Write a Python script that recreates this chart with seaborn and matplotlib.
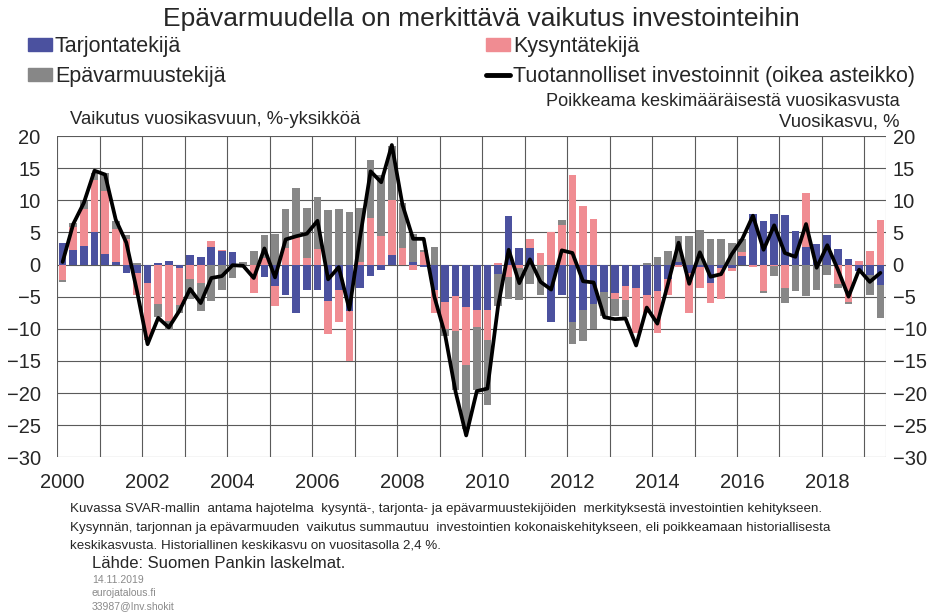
import numpy as np
import matplotlib.pyplot as plt
from matplotlib.patches import Patch
from matplotlib.lines import Line2D
import seaborn as sns

#%% data (quarterly, 2000Q1 - 2019Q2)
years = list(range(2000, 2019))
year_labels = [str(y) for y in range(2000, 2019, 2)]

supply = [3.3, 2.2, 2.9, 5.1,  1.7, 0.4, -1.3, -1.3,  -2.8, 0.3, 0.6, -0.6,
          1.5, 1.2, 2.8, 2.1,  2.0, 0.0, 0.0, -1.9,  -3.4, -4.7, -7.5, -3.9,
          -3.9, -5.6, -4.0, -7.2,  -3.6, -1.8, -0.8, 1.5,  0.0, 0.4, -0.4, -3.9,
          -5.8, -4.9, -6.6, -7.0,  -7.1, -1.4, 7.6, 2.5,  2.5, 0.0, -9.0, -4.8,
          -8.9, -7.0, -6.1, -4.3,  -4.4, -3.4, -3.7, -4.7,  -4.1, -2.3, 0.4, -1.3,
          -0.4, -2.8, -0.5, -0.6,  1.3, 7.8, 6.8, 7.8,  7.7, 5.2, 2.7, 3.2,
          4.6, 2.4, 0.9, -1.0,  -1.7, -3.2]
demand = [-2.4, 3.7, 5.8, 8.0,  9.7, 5.1, 4.0, -3.4,  -8.8, -6.1, -8.8, -5.7,
          -2.3, -2.8, 0.9, 0.15,  0.0, 0.0, -4.5, 1.0,  -3.1, 2.6, 4.4, 1.0,
          2.4, -5.2, -5.0, -7.8,  0.4, 7.3, 4.4, 8.5,  2.6, -0.9, 1.9, -3.7,
          -4.3, -5.5, -9.0, -2.7,  -4.6, 0.2, -2.0, -0.5,  1.4, 1.8, 5.0, 6.2,
          14.0, 9.1, 7.1, 0.0,  -1.0, -2.1, -7.0, -2.8,  -6.5, -2.5, -0.4, -6.2,
          -3.2, -3.2, -4.8, -0.4,  0.6, -0.4, -4.1, -0.3,  -3.7, 0.0, 8.5, 0.0,
          0.0, -3.0, -5.8, 0.6,  2.1, 6.9]
uncertainty = [-0.3, 0.6, 1.2, 1.1,  2.8, 1.2, 0.6, 0.3,  -0.2, -2.1, -1.4, -1.2,
               -3.0, -4.4, -5.7, -4.0,  -2.1, 0.4, 2.1, 3.6,  4.7, 6.0, 7.5, 7.8,
               8.1, 8.5, 8.7, 8.1,  8.4, 9.0, 9.6, 8.4,  7.0, 4.3, 0.3, 2.7,
               -1.0, -9.2, -10.0, -9.8,  -10.1, -5.0, -3.4, -5.0,  -3.1, -4.7, 0.0, 0.7,
               -3.4, -4.9, -4.0, -3.7,  -2.6, -2.6, 0.0, 0.2,  1.2, 2.1, 4.0, 4.5,
               5.4, 4.0, 4.0, 3.4,  2.0, 0.0, -0.4, -1.5,  -2.3, -4.1, -4.9, -3.9,
               -1.7, -0.6, -0.3, 0.0,  -3.1, -5.1]
investment = [0.4, 6.3, 9.6, 14.6,  14.0, 7.0, 3.4, -4.1,  -12.4, -8.3, -9.8, -7.2,
              -3.8, -6.0, -2.1, -1.8,  -0.1, -0.2, -2.1, 2.5,  -2.0, 3.9, 4.4, 4.8,
              6.8, -2.3, -0.4, -7.0,  4.2, 14.5, 12.8, 18.6,  9.3, 4.0, 4.0, -5.0,
              -10.8, -19.8, -26.6, -19.7,  -19.3, -6.5, 2.3, -2.9,  0.8, -2.7, -3.9, 2.2,
              1.8, -2.6, -2.8, -8.2,  -8.5, -8.4, -12.6, -6.7,  -9.2, -3.0, 3.4, -3.0,
              1.9, -1.9, -1.5, 1.6,  4.0, 7.6, 2.3, 6.1,  1.8, 1.2, 6.3, -0.5,
              3.0, -0.8, -5.0, -0.8,  -2.7, -1.3]

series = [('Tarjontatekijä', supply, '#4B519F'),
          ('Kysyntätekijä', demand, '#F08C92'),
          ('Epävarmuustekijä', uncertainty, '#878787')]
line_label = 'Tuotannolliset investoinnit (oikea asteikko)'

#%% plot
sns.set_style("white")
plt.rcParams['font.family'] = ['Liberation Sans', 'DejaVu Sans']

W, H = 937, 615
fig = plt.figure(figsize=(W / 100, H / 100), dpi=100)
ax = fig.add_axes([57.3 / W, 1 - 457.3 / H, (885.7 - 57.3) / W, (457.3 - 136) / H])

n = len(supply)
x = np.arange(n)
pos = np.zeros(n)
neg = np.zeros(n)
handles = {}
for name, vals, col in series:
    v = np.array(vals)
    bottom = np.where(v >= 0, pos, neg)
    ax.bar(x, v, width=0.72, bottom=bottom, color=col, linewidth=0, zorder=2)
    pos += np.clip(v, 0, None)
    neg += np.clip(v, None, 0)
    handles[name] = Patch(color=col)

ax2 = ax.twinx()
sns.lineplot(x=x, y=investment, ax=ax2, color='black', linewidth=2.7, zorder=3)

grid_col = '#5a5a5a'
for a in (ax, ax2):
    a.set_ylim(-30, 20)
    a.set_yticks(np.arange(-30, 21, 5))
    a.set_xlim(-0.5, n - 0.5)
    for s in a.spines.values():
        s.set_visible(False)
for yv in np.arange(-30, 21, 5):
    ax.axhline(yv, color=grid_col, lw=0.8, zorder=1)
for k in range(len(years) + 1):
    ax.axvline(4 * k - 0.5, color=grid_col, lw=0.8, zorder=1)
ax.axvline(n - 0.5, color='#999999', lw=0.8, zorder=1)

ax.set_xticks(np.arange(0, n, 8))
ax.set_xticklabels(year_labels)
ax.tick_params(axis='x', length=0, pad=11, labelsize=14.5)
ax.tick_params(axis='y', length=0, pad=12, labelsize=14.5)
ax2.tick_params(axis='y', length=0, pad=5, labelsize=14.5)
ax2.set_ylabel('')

# legends
leg_kw = dict(loc='upper left', frameon=False, fontsize=15.5, handlelength=1.1,
              handleheight=0.6, handletextpad=0.15, labelspacing=0.42,
              borderaxespad=0, borderpad=0)
fig.legend([handles['Tarjontatekijä'], handles['Epävarmuustekijä']],
           ['Tarjontatekijä', 'Epävarmuustekijä'],
           bbox_to_anchor=(28 / W, 1 - 36 / H), **leg_kw)
fig.legend([handles['Kysyntätekijä'], Line2D([], [], color='black', lw=3.5)],
           ['Kysyntätekijä', line_label],
           bbox_to_anchor=(486 / W, 1 - 36 / H), **leg_kw)

# texts
fig.text(481 / W, 1 - 19 / H, 'Epävarmuudella on merkittävä vaikutus investointeihin',
         ha='center', va='center', fontsize=19)
fig.text(70 / W, 1 - 120 / H, 'Vaikutus vuosikasvuun, %-yksikköä', ha='left', va='center', fontsize=13.3)
fig.text(900 / W, 1 - 101 / H, 'Poikkeama keskimääräisestä vuosikasvusta', ha='right', va='center', fontsize=13.1)
fig.text(900 / W, 1 - 122 / H, 'Vuosikasvu, %', ha='right', va='center', fontsize=13.3)

notes = ['Kuvassa SVAR-mallin  antama hajotelma  kysyntä-, tarjonta- ja epävarmuustekijöiden  merkityksestä investointien kehitykseen.',
         'Kysynnän, tarjonnan ja epävarmuuden  vaikutus summautuu  investointien kokonaiskehitykseen, eli poikkeamaan historiallisesta',
         'keskikasvusta. Historiallinen keskikasvu on vuositasolla 2,4 %.']
for i, t in enumerate(notes):
    fig.text(70 / W, 1 - (509 + 18.5 * i) / H, t, ha='left', va='center', fontsize=9.6)
fig.text(92 / W, 1 - 563 / H, 'Lähde: Suomen Pankin laskelmat.', ha='left', va='center', fontsize=12)
for i, t in enumerate(['14.11.2019', 'eurojatalous.fi', '33987@Inv.shokit']):
    fig.text(92 / W, 1 - (580 + 13.3 * i) / H, t, ha='left', va='center', fontsize=7.5, color='#8a8a8a')

fig.savefig('out.png', dpi=100)
